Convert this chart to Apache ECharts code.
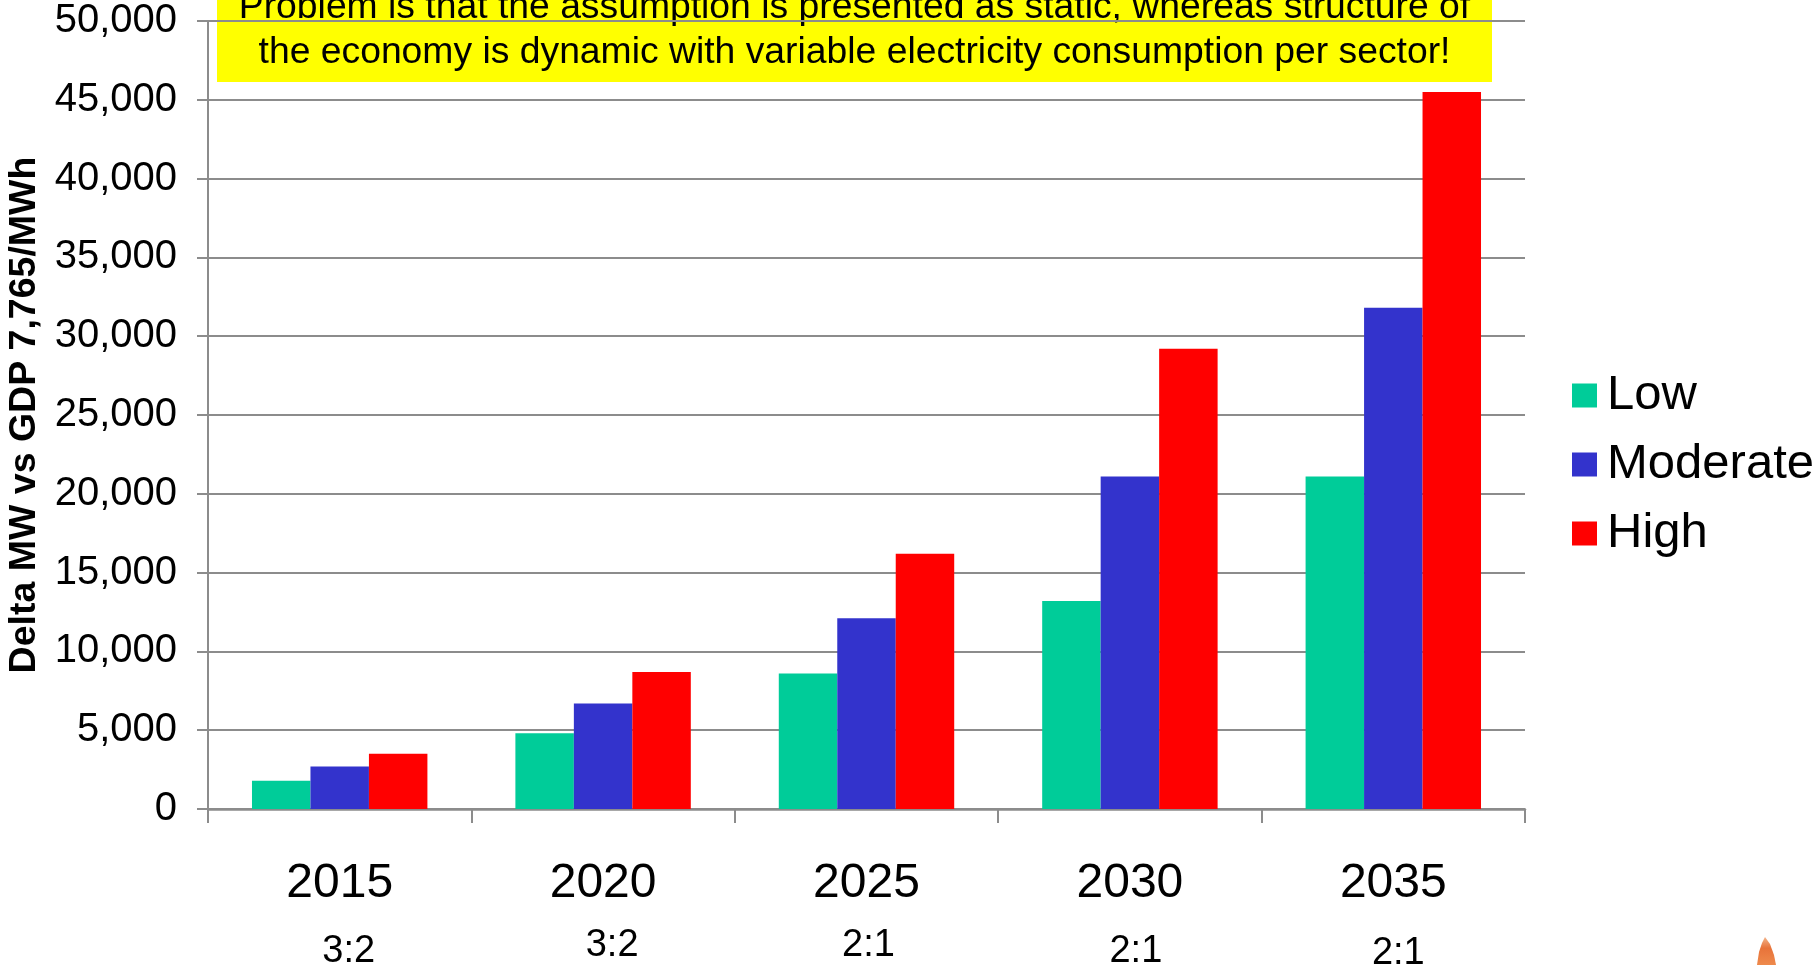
<!DOCTYPE html>
<html>
<head>
<meta charset="utf-8">
<title>Delta MW vs GDP</title>
<script src="https://cdn.jsdelivr.net/npm/echarts@6/dist/echarts.min.js"></script>
<style>
  html, body { margin: 0; padding: 0; background: #ffffff; }
  #chart { width: 1812px; height: 965px; }
</style>
</head>
<body>
<div id="chart"></div>
<script>
// Years and the sector ratio written under each year
const years = ['2015', '2020', '2025', '2030', '2035'];
const ratios = ['3:2', '3:2', '2:1', '2:1', '2:1'];

// Delta MW per scenario
const lowValues = [1800, 4800, 8600, 13200, 21100];
const moderateValues = [2700, 6700, 12100, 21100, 31800];
const highValues = [3500, 8700, 16200, 29200, 45500];

const seriesNames = ['Low', 'Moderate', 'High'];
const seriesColors = ['#00CC99', '#3333CC', '#FF0000'];

const axisName = 'Delta MW vs GDP 7,765/MWh';
const noteLines = [
  'Problem is that the assumption is presented as static, whereas structure of',
  'the economy is dynamic with variable electricity consumption per sector!'
];

const FONT = '"Liberation Sans", Arial, Helvetica, sans-serif';
const GRID_GRAY = '#8c8c8c';

// The ratio captions were placed by hand as loose text boxes, so each one
// sits a little off the year it belongs to: [dx, dy] in pixels.
const ratioNudge = [[9, 6], [9, 0], [2, 0], [6, 6], [5, 8]];
const ratioRich = {};
ratioNudge.forEach(function (d, i) {
  ratioRich['r' + i] = {
    fontFamily: FONT,
    fontSize: 38,
    lineHeight: 68,
    color: '#000000',
    padding: [2 * d[1], 0, 0, 2 * d[0]]
  };
});

const chart = echarts.init(document.getElementById('chart'), null, { renderer: 'canvas' });

const seriesData = [lowValues, moderateValues, highValues];

const option = {
  backgroundColor: '#ffffff',
  animation: false,
  grid: {
    left: 208, right: 287, top: 21, bottom: 156,
    containLabel: false,
    outerBoundsMode: 'none'
  },
  legend: {
    orient: 'vertical',
    left: 1567,
    top: 366,
    itemWidth: 25,
    itemHeight: 24,
    itemGap: 20,
    icon: 'rect',
    data: seriesNames,
    textStyle: {
      fontFamily: FONT,
      fontSize: 49,
      lineHeight: 48,
      color: '#000000',
      padding: [0, 0, 0, 5]
    }
  },
  xAxis: {
    type: 'category',
    data: years,
    axisLine: { show: true, lineStyle: { color: GRID_GRAY, width: 2.5 } },
    axisTick: { show: true, length: 14, lineStyle: { color: GRID_GRAY, width: 2 } },
    axisLabel: {
      margin: 47,
      formatter: function (value, index) {
        return '{y|' + value + '}\n{r' + index + '|' + ratios[index] + '}';
      },
      rich: Object.assign({
        y: { fontFamily: FONT, fontSize: 48, lineHeight: 56, color: '#000000' }
      }, ratioRich)
    },
    splitLine: { show: false }
  },
  yAxis: {
    type: 'value',
    min: 0,
    max: 50000,
    interval: 5000,
    name: axisName,
    nameLocation: 'middle',
    nameRotate: 90,
    nameGap: 163,
    nameTextStyle: {
      fontFamily: FONT,
      fontSize: 37.5,
      fontWeight: 'bold',
      color: '#000000'
    },
    axisLine: { show: true, lineStyle: { color: GRID_GRAY, width: 2 } },
    axisTick: { show: true, inside: false, length: 11, lineStyle: { color: GRID_GRAY, width: 2 } },
    axisLabel: {
      margin: 31,
      fontFamily: FONT,
      fontSize: 40,
      color: '#000000',
      formatter: function (v) { return v.toLocaleString('en-US'); }
    },
    splitLine: { show: true, lineStyle: { color: GRID_GRAY, width: 2 } }
  },
  series: seriesNames.map(function (name, i) {
    return {
      name: name,
      type: 'bar',
      data: seriesData[i],
      barGap: '0%',
      barCategoryGap: '33.4%',
      itemStyle: { color: seriesColors[i] }
    };
  }),
  graphic: [
    {
      type: 'group',
      z: 100,
      children: [
        {
          type: 'rect',
          shape: { x: 217, y: -30, width: 1275, height: 112 },
          style: { fill: '#FFFF00' }
        },
        {
          type: 'text',
          style: {
            text: noteLines.join('\n'),
            x: 854.5,
            y: 75.5,
            align: 'center',
            textAlign: 'center',
            verticalAlign: 'bottom',
            textVerticalAlign: 'bottom',
            fontFamily: FONT,
            fontSize: 37.3,
            lineHeight: 45,
            fill: '#000000'
          }
        }
      ]
    },
    {
      // small orange ornament in the lower right corner
      type: 'polygon',
      shape: { points: [[1765, 937], [1770, 944], [1774, 955], [1776, 965], [1757, 965], [1759, 952], [1762, 943]] },
      style: {
        fill: new echarts.graphic.LinearGradient(0, 0, 0, 1, [
          { offset: 0, color: '#f2b48a' },
          { offset: 0.4, color: '#e8733a' },
          { offset: 1, color: '#ee8a4c' }
        ])
      }
    }
  ]
};

chart.setOption(option);
</script>
</body>
</html>
